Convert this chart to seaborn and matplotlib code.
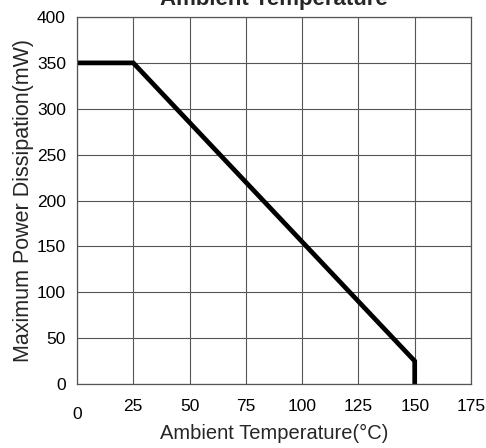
"""Power derating curve: maximum power dissipation vs ambient temperature."""

import matplotlib
matplotlib.use("Agg")
import matplotlib.pyplot as plt
import pandas as pd
import seaborn as sns

# curve breakpoints
temperature_c = [0, 25, 150, 150]
power_mw = [350, 350, 25, 0]

x_ticks = [0, 25, 50, 75, 100, 125, 150, 175]
y_ticks = [0, 50, 100, 150, 200, 250, 300, 350, 400]

df = pd.DataFrame({"Temp": temperature_c, "Power": power_mw})

sns.set_theme(style="white")
plt.rcParams["font.family"] = ["Liberation Sans", "DejaVu Sans"]

fig = plt.figure(figsize=(4.86, 4.48), dpi=100)
ax = fig.add_axes([0.1584, 0.1429, 0.8107, 0.8191])

# estimator=None keeps both points at 150 so the vertical drop is drawn
sns.lineplot(data=df, x="Temp", y="Power", sort=False, estimator=None,
             color="black", linewidth=3.4, ax=ax,
             solid_capstyle="round", solid_joinstyle="miter")

ax.set_xlim(0, 175)
ax.set_ylim(0, 400)
ax.set_xticks(x_ticks)
ax.set_yticks(y_ticks)
ax.grid(True, color="#555555", linewidth=0.8)
ax.set_axisbelow(True)
for spine in ax.spines.values():
    spine.set_color("#555555")
    spine.set_linewidth(0.9)

ax.tick_params(axis="both", length=0, labelsize=12.5, colors="black")
ax.tick_params(axis="x", pad=11)
ax.tick_params(axis="y", pad=8)
# the "0" on the x axis sits lower than the rest
xlabels = ax.get_xticklabels()
xlabels[0].set_y(-0.02)

ax.set_xlabel("Ambient Temperature(°C)", fontsize=14.5, labelpad=2)
ax.set_ylabel("Maximum Power Dissipation(mW)", fontsize=15.5, labelpad=2)
ax.set_title("Ambient Temperature", fontsize=16, fontweight="bold", pad=9)

fig.savefig("out.png", dpi=100)
